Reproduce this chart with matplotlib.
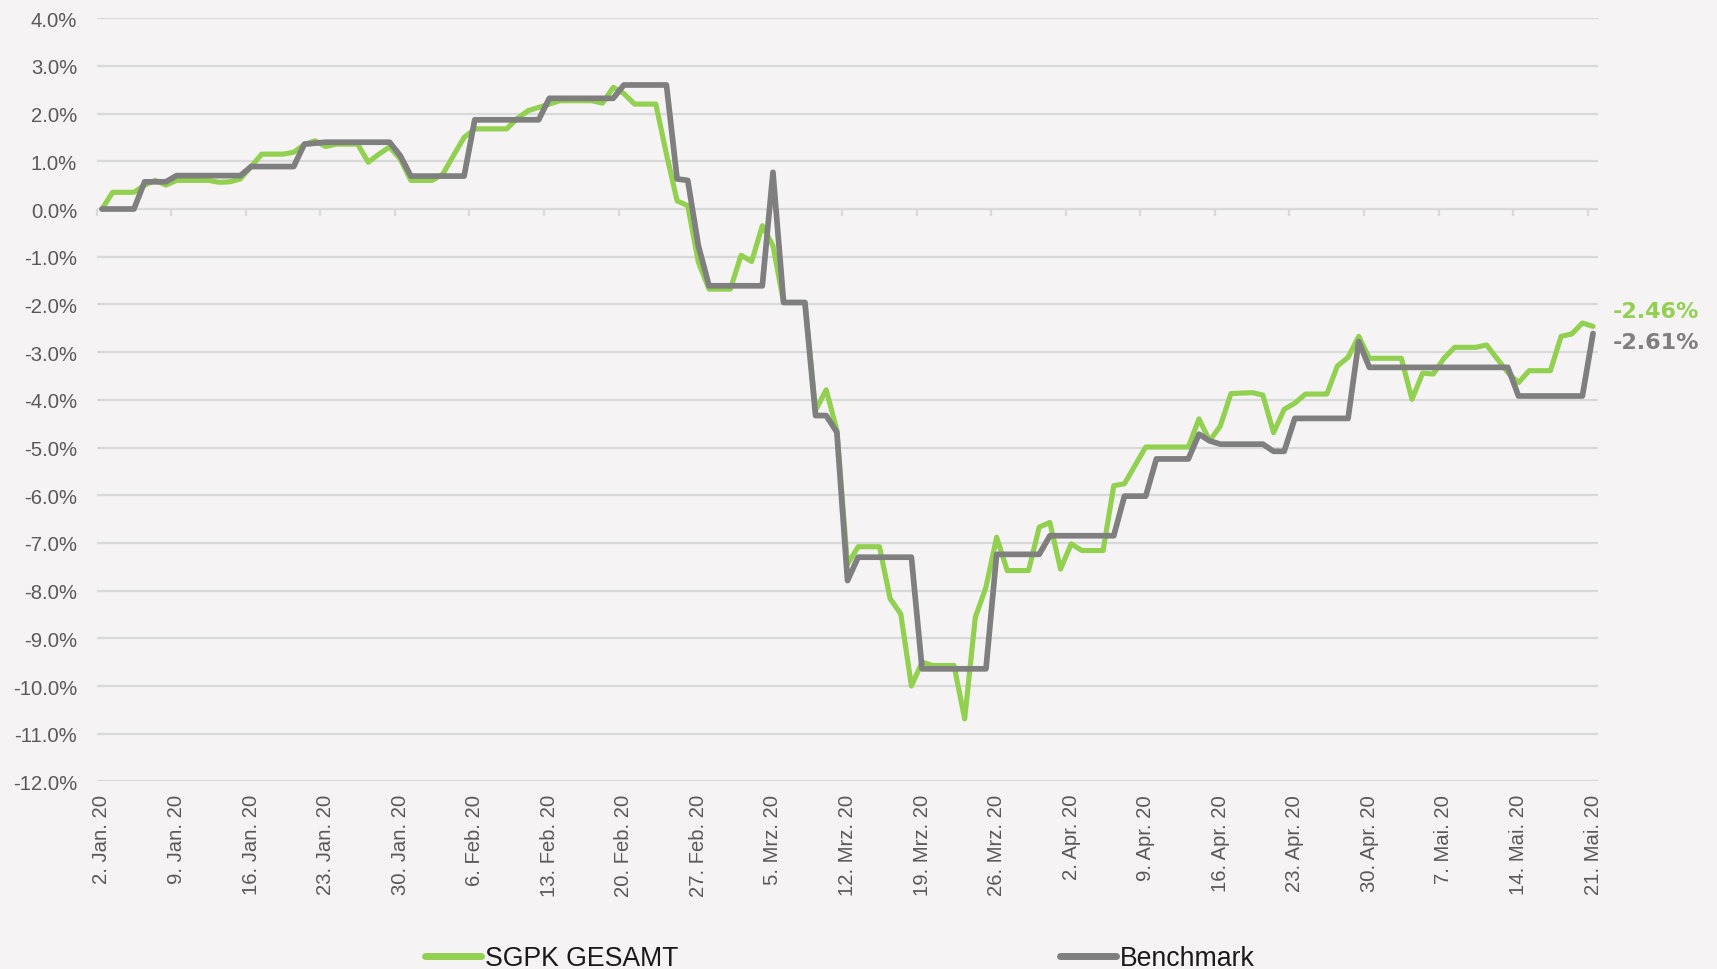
import matplotlib
matplotlib.use('Agg')
import matplotlib.pyplot as plt
import matplotlib.dates as mdates
from matplotlib.ticker import FixedLocator, FuncFormatter
import pandas as pd

# daily performance since 2 Jan 2020 (day offset -> value in %), vertices
start = pd.Timestamp('2020-01-02')

sgpk_days = [0, 1, 3, 4, 5, 6, 7, 10, 11, 12, 13, 15, 17, 18, 19, 20, 21, 22, 24, 25,
             26, 27, 28, 29, 31, 32, 33, 34, 35, 38, 39, 40, 41, 42, 43, 46, 47, 48, 49, 50,
             52, 53, 54, 55, 56, 57, 59, 60, 61, 62, 63, 64, 66, 67, 68, 69, 70, 71, 73, 74,
             75, 76, 77, 78, 80, 81, 82, 83, 84, 85, 87, 88, 89, 90, 91, 92, 94, 95, 96, 98,
             102, 103, 104, 105, 106, 108, 109, 110, 111, 112, 113, 115, 116, 117, 118, 119, 122, 123, 124, 125,
             126, 127, 129, 130, 132, 133, 134, 136, 137, 138, 139, 140]
sgpk_vals = [0.0, 0.35, 0.35, 0.5, 0.6, 0.5, 0.6, 0.6, 0.56, 0.57, 0.63, 1.15, 1.15, 1.19, 1.35, 1.43, 1.31, 1.36, 1.36, 0.98,
             1.15, 1.3, 1.05, 0.6, 0.6, 0.73, 1.12, 1.5, 1.68, 1.68, 1.9, 2.06, 2.13, 2.2, 2.27, 2.27, 2.22, 2.55, 2.42, 2.2,
             2.2, 1.15, 0.17, 0.07, -1.12, -1.68, -1.68, -0.97, -1.1, -0.35, -0.77, -1.96, -1.96, -4.22, -3.79, -4.64, -7.45, -7.08, -7.08, -8.17,
             -8.49, -10.0, -9.5, -9.57, -9.57, -10.69, -8.56, -7.93, -6.88, -7.58, -7.58, -6.67, -6.57, -7.55, -7.02, -7.16, -7.16, -5.8, -5.76, -4.99,
             -4.99, -4.4, -4.86, -4.55, -3.87, -3.85, -3.9, -4.69, -4.2, -4.07, -3.88, -3.88, -3.29, -3.11, -2.67, -3.13, -3.13, -3.99, -3.44, -3.46,
             -3.13, -2.9, -2.9, -2.85, -3.43, -3.64, -3.39, -3.39, -2.67, -2.62, -2.39, -2.46]

bench_days = [0, 3, 4, 6, 7, 13, 14, 18, 19, 21, 27, 28, 29, 34, 35, 41, 42, 48, 49, 53,
              54, 55, 56, 57, 62, 63, 64, 66, 67, 68, 69, 70, 71, 76, 77, 83, 84, 88, 89, 95,
              96, 98, 99, 102, 103, 104, 105, 109, 110, 111, 112, 117, 118, 119, 132, 133, 139, 140]
bench_vals = [0.0, 0.0, 0.57, 0.57, 0.7, 0.7, 0.89, 0.89, 1.36, 1.4, 1.4, 1.12, 0.69, 0.69, 1.87, 1.87, 2.32, 2.32, 2.6, 2.6,
              0.63, 0.6, -0.77, -1.61, -1.61, 0.77, -1.96, -1.96, -4.33, -4.33, -4.68, -7.79, -7.3, -7.3, -9.64, -9.64, -7.24, -7.24, -6.85, -6.85,
              -6.02, -6.02, -5.24, -5.24, -4.72, -4.86, -4.93, -4.93, -5.08, -5.08, -4.39, -4.39, -2.78, -3.32, -3.32, -3.92, -3.92, -2.61]

n_days = 141
month_names = {1: 'Jan.', 2: 'Feb.', 3: 'Mrz.', 4: 'Apr.', 5: 'Mai.'}

bg = '#f5f3f4'
green = '#92d050'
grey = '#7f7f7f'
grid_col = '#d9d9d9'
label_col = '#595959'

plt.rcParams['font.family'] = ['Liberation Sans', 'DejaVu Sans']

t0 = mdates.date2num(start)


def to_x(days):
    # each date occupies a one-day slot, the point sits in its middle
    return [t0 + d + 0.5 for d in days]


fig = plt.figure(figsize=(17.17, 9.70), dpi=100, facecolor=bg)
ax = fig.add_axes([0.0563, 0.1934, 0.8746, 0.7868], facecolor=bg)

ax.plot(to_x(sgpk_days), sgpk_vals, color=green, lw=3.7,
        solid_joinstyle='round', solid_capstyle='round', label='SGPK GESAMT', zorder=3)
ax.plot(to_x(bench_days), bench_vals, color=grey, lw=4.1,
        solid_joinstyle='round', solid_capstyle='round', label='Benchmark', zorder=4)

ax.set_xlim(t0, t0 + n_days)
ax.set_ylim(-12, 4)
ax.set_yticks(range(-12, 5))
ax.yaxis.set_major_formatter(FuncFormatter(lambda v, p: f'{v:.1f}%'))
ax.grid(axis='y', color=grid_col, lw=1.6)
ax.set_axisbelow(True)
for s in ax.spines.values():
    s.set_visible(False)

week_starts = list(range(0, n_days, 7))
ax.xaxis.set_major_locator(FixedLocator(to_x(week_starts)))


def fmt_date(v, p):
    d = mdates.num2date(v - 0.5)
    return f'{d.day}. {month_names[d.month]} {d.year % 100}'


ax.xaxis.set_major_formatter(FuncFormatter(fmt_date))
ax.tick_params(axis='x', length=0, pad=9, labelsize=14.6, labelcolor=label_col, labelrotation=90)
ax.tick_params(axis='y', length=0, pad=14, labelsize=14.6, labelcolor=label_col)

# small tick marks hanging from the 0% line
zero_pos = (0 - (-12)) / 16
sec = ax.secondary_xaxis(zero_pos)
sec.set_xticks([t0 + d for d in week_starts])
sec.tick_params(axis='x', direction='out', length=5, width=1.6, color=grid_col, labelbottom=False, labeltop=False)
sec.spines['bottom'].set_visible(False)
sec.spines['top'].set_visible(False)
sec.xaxis.set_ticks_position('bottom')
sec.tick_params(labelbottom=False)

fig.text(0.9394, 0.6784, f'{sgpk_vals[-1]:.2f}%', color=green, fontsize=16,
         fontweight='bold', family='DejaVu Sans', va='center', ha='left')
fig.text(0.9394, 0.6464, f'{bench_vals[-1]:.2f}%', color=grey, fontsize=16,
         fontweight='bold', family='DejaVu Sans', va='center', ha='left')

leg = fig.legend(loc='center left', bbox_to_anchor=(0.2475, 0.0113), ncol=2, frameon=False,
                 fontsize=19.2, handlelength=2.1, handletextpad=0.15, columnspacing=14.3,
                 borderpad=0, borderaxespad=0)
for t in leg.get_texts():
    t.set_color('#1a1a1a')
for h in leg.legend_handles:
    h.set_linewidth(5)

fig.savefig('out.png', dpi=100, facecolor=bg)
